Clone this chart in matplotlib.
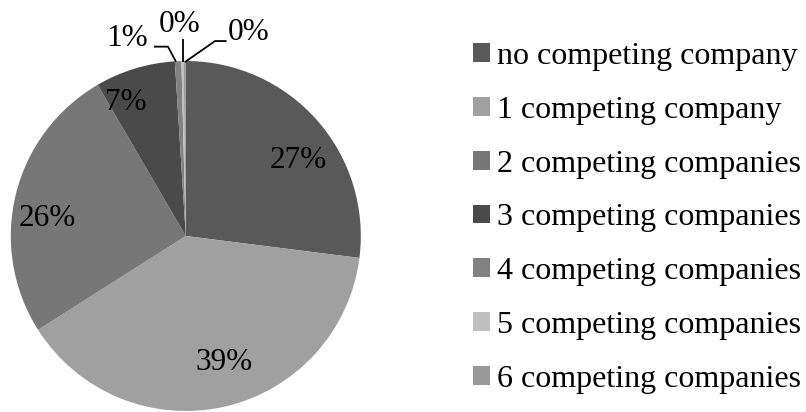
import matplotlib
matplotlib.use("Agg")
import matplotlib.pyplot as plt
from matplotlib.patches import Patch

categories = ["no competing company", "1 competing company", "2 competing companies",
              "3 competing companies", "4 competing companies", "5 competing companies",
              "6 competing companies"]
values = [27.0, 39.0, 25.6, 7.4, 0.6, 0.2, 0.2]
colors = ["#595959", "#a0a0a0", "#777777", "#4a4a4a", "#828282", "#c0c0c0", "#999999"]

# label layout (data units of the unit pie)
label_pos = [(0.64, 0.43), (0.22, -0.72), (-0.79, 0.10), (-0.34, 0.76),
             (-0.336, 1.131), (-0.033, 1.211), (0.358, 1.163)]
leaders = {4: [(-0.182, 1.082), (-0.102, 1.082), (-0.056, 0.996)],
           5: [(-0.014, 1.124), (-0.014, 0.996)],
           6: [(-0.005, 0.994), (0.167, 1.114), (0.233, 1.114)]}

plt.rcParams['font.family'] = ['Liberation Serif', 'DejaVu Serif']
W, H = 806, 412
fig = plt.figure(figsize=(W / 100, H / 100), dpi=100)
cx, cy, R = 185.8, 236, 175
ax = fig.add_axes([(cx - R) / W, (H - cy - R) / H, 2 * R / W, 2 * R / H])
wedges, _ = ax.pie(values, colors=colors, startangle=90, counterclock=False,
                   radius=1, wedgeprops=dict(linewidth=0))
ax.set_xlim(-1, 1)
ax.set_ylim(-1, 1)
ax.set_aspect('equal')
ax.axis('off')

for i, v in enumerate(values):
    x, y = label_pos[i]
    ax.text(x, y, f"{v:.0f}%", ha='center', va='center', fontsize=22.5, color='black',
            clip_on=False)
for i, pts in leaders.items():
    xs, ys = zip(*pts)
    ax.plot(xs, ys, color='black', lw=1.3, clip_on=False, solid_capstyle='butt')

handles = [Patch(facecolor=c, edgecolor='none') for c in colors]
fig.legend(handles, categories, loc='upper left', bbox_to_anchor=(473 / W, 1 - 42 / H),
           frameon=False, fontsize=23, handlelength=0.53, handleheight=0.53,
           handletextpad=0.22, labelspacing=0.775, borderpad=0, borderaxespad=0)

fig.savefig("out.png", dpi=100)
